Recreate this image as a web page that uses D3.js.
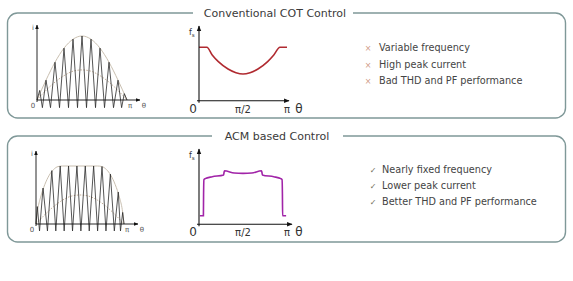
<!DOCTYPE html>
<html><head><meta charset="utf-8">
<script src="https://cdn.jsdelivr.net/npm/d3@7"></script>
<style>body{margin:0;background:#fff}svg{display:block}</style>
</head><body>
<script>
// ---------- data (theta as fraction of pi) ----------
const panelTitles = ["Conventional COT Control", "ACM based Control"];
const cotBullets = ["Variable frequency", "High peak current", "Bad THD and PF performance"];
const acmBullets = ["Nearly fixed frequency", "Lower peak current", "Better THD and PF performance"];
const fsTickLabels = ["0", "π/2", "π"];
const fsTickTheta = [0, 0.5, 1];

// COT current waveform (triangle ripple)
const cotWaveTheta = [0,0.03,0.06,0.10,0.15,0.20,0.25,0.30,0.35,0.40,0.45,0.50,0.55,0.60,0.65,0.70,0.75,0.80,0.85,0.90,0.94,0.97,1.0];
const cotWaveValue = [0,0.15,-0.12,0.31,-0.12,0.59,-0.12,0.81,-0.12,0.95,-0.12,1.0,-0.12,0.95,-0.12,0.81,-0.12,0.59,-0.12,0.31,-0.12,0.1,0];
// COT envelopes
const cotEnvTheta = [0,0.1,0.2,0.3,0.4,0.5,0.6,0.7,0.8,0.9,1];
const cotEnvOuter = [0,0.31,0.59,0.81,0.95,1,0.95,0.81,0.59,0.31,0];
const cotEnvInner = [0,0.15,0.28,0.38,0.45,0.47,0.45,0.38,0.28,0.15,0];

// ACM current waveform
const acmWaveTheta = [0,0.015,0.04,0.08,0.13,0.18,0.225,0.275,0.32,0.37,0.415,0.465,0.51,0.56,0.605,0.655,0.70,0.75,0.795,0.845,0.89,0.935,0.96,0.985,1.0];
const acmWaveValue = [0,0.3,-0.12,0.62,-0.12,0.92,-0.12,1,-0.12,1,-0.12,1,-0.12,1,-0.12,1,-0.12,0.99,-0.12,0.86,-0.12,0.55,-0.12,0.2,0];
const acmEnvTheta = [0,0.02,0.05,0.1,0.15,0.2,0.25,0.3,0.5,0.7,0.75,0.8,0.85,0.9,0.95,0.98,1];
const acmEnvOuter = [0,0.25,0.45,0.68,0.84,0.94,0.99,1,1,1,0.99,0.94,0.84,0.68,0.45,0.25,0];
const acmEnvInnerTheta = [0,0.1,0.2,0.3,0.4,0.5,0.6,0.7,0.8,0.9,1];
const acmEnvInner = [0,0.16,0.3,0.41,0.48,0.5,0.48,0.41,0.3,0.16,0];

// switching frequency curves
const cotFsTheta = [0,0.09,0.15,0.22,0.33,0.42,0.5,0.58,0.67,0.78,0.85,0.92,1];
const cotFsValue = [0.725,0.725,0.62,0.53,0.43,0.38,0.362,0.38,0.43,0.53,0.62,0.725,0.725];
const acmFsTheta = [0.01,0.05,0.052,0.056,0.07,0.15,0.28,0.285,0.29,0.4,0.5,0.6,0.71,0.715,0.72,0.85,0.93,0.944,0.948,0.95,0.99];
const acmFsValue = [0.116,0.116,0.4,0.6,0.615,0.64,0.665,0.7,0.72,0.69,0.685,0.69,0.72,0.7,0.665,0.64,0.615,0.6,0.4,0.116,0.116];

// ---------- drawing ----------
const W = 573, H = 281;
const svg = d3.select("body").append("svg").attr("width", W).attr("height", H);
const defs = svg.append("defs");
defs.append("marker").attr("id","arr").attr("viewBox","0 0 10 10").attr("refX",9).attr("refY",5)
  .attr("markerWidth",5).attr("markerHeight",5).attr("orient","auto-start-reverse")
  .append("path").attr("d","M0,1 L10,5 L0,9 z").attr("fill","#111");

const FONT = "DejaVu Sans, Verdana, sans-serif";
const border = "#7f9898";

function panel(y0, y1, title, tx0, tx1, tcx, tBase) {
  const x0 = 7.5, x1 = 565.5, r = 10;
  const p = d3.path();
  p.moveTo(tx0, y0); p.lineTo(x0 + r, y0); p.arcTo(x0, y0, x0, y0 + r, r);
  p.lineTo(x0, y1 - r); p.arcTo(x0, y1, x0 + r, y1, r);
  p.lineTo(x1 - r, y1); p.arcTo(x1, y1, x1, y1 - r, r);
  p.lineTo(x1, y0 + r); p.arcTo(x1, y0, x1 - r, y0, r);
  p.lineTo(tx1, y0);
  svg.append("path").attr("d", p.toString()).attr("fill","none").attr("stroke",border).attr("stroke-width",1.4);
  svg.append("text").attr("x", tcx).attr("y", tBase).attr("text-anchor","middle")
    .attr("font-family", FONT).attr("font-size", 11).attr("fill","#3a3a3a").text(title);
}
panel(13, 118, panelTitles[0], 193, 353, 275, 16.5);
panel(136, 242, panelTitles[1], 212, 343, 277, 139.5);

function currentChart(cfg) {
  const x = d3.scaleLinear().domain([0,1]).range([cfg.x0, cfg.x1]);
  const y = d3.scaleLinear().domain([0,1]).range([cfg.yb, cfg.yt]);
  const g = svg.append("g");
  const line = (xs, vs, curve) => d3.line().x((d,i)=>x(xs[i])).y(d=>y(d)).curve(curve)(vs);
  g.append("path").attr("d", line(cfg.envTheta, cfg.envOuter, d3.curveMonotoneX))
    .attr("fill","none").attr("stroke","#c9bfb0").attr("stroke-width",1);
  g.append("path").attr("d", line(cfg.innerTheta, cfg.envInner, d3.curveMonotoneX))
    .attr("fill","none").attr("stroke","#c4ad95").attr("stroke-width",1).attr("stroke-dasharray","1.5,1.5");
  g.append("path").attr("d", line(cfg.waveTheta, cfg.waveValue, d3.curveLinear))
    .attr("fill","none").attr("stroke","#2a2a2a").attr("stroke-width",0.8);
  // axes
  g.append("line").attr("x1", x(0)).attr("y1", y(0)+2).attr("x2", x(0)).attr("y2", cfg.yArrow)
    .attr("stroke","#111").attr("stroke-width",0.9).attr("marker-end","url(#arr)");
  g.append("line").attr("x1", x(0)).attr("y1", y(0)).attr("x2", cfg.xArrow).attr("y2", y(0))
    .attr("stroke","#111").attr("stroke-width",0.9).attr("marker-end","url(#arr)");
  const t = (tx, ty, s) => g.append("text").attr("x",tx).attr("y",ty).attr("font-family",FONT)
    .attr("font-size",7).attr("fill","#555").attr("text-anchor","middle").text(s);
  t(x(0)-4, cfg.yArrow+5, "i");
  t(x(0)-4, y(0)+8, "0");
  t(x(1)+3, y(0)+8, "π");
  t(cfg.xArrow+4, y(0)+8, "θ");
}
currentChart({x0:37, x1:127, yb:100, yt:36, yArrow:25, xArrow:140,
  envTheta:cotEnvTheta, envOuter:cotEnvOuter, innerTheta:cotEnvTheta, envInner:cotEnvInner,
  waveTheta:cotWaveTheta, waveValue:cotWaveValue});
currentChart({x0:36, x1:124, yb:224, yt:166, yArrow:151, xArrow:138,
  envTheta:acmEnvTheta, envOuter:acmEnvOuter, innerTheta:acmEnvInnerTheta, envInner:acmEnvInner,
  waveTheta:acmWaveTheta, waveValue:acmWaveValue});

function fsChart(cfg) {
  const x = d3.scaleLinear().domain([0,1]).range([199, 287]);
  const y = d3.scaleLinear().domain([0,1]).range([cfg.yb, cfg.yt]);
  const g = svg.append("g");
  g.append("path").attr("d", d3.line().x((d,i)=>x(cfg.theta[i])).y(d=>y(d)).curve(d3.curveMonotoneX)(cfg.values))
    .attr("fill","none").attr("stroke",cfg.color).attr("stroke-width",1.6);
  g.append("line").attr("x1", x(0)).attr("y1", y(0)+2).attr("x2", x(0)).attr("y2", cfg.yt - 1)
    .attr("stroke","#111").attr("stroke-width",1.1).attr("marker-end","url(#arr)");
  g.append("line").attr("x1", x(0)-2).attr("y1", y(0)).attr("x2", cfg.xArrow).attr("y2", y(0))
    .attr("stroke","#111").attr("stroke-width",1.1).attr("marker-end","url(#arr)");
  fsTickTheta.forEach((v,i)=>{
    g.append("text").attr("x", x(v) + (i===0?-6:0)).attr("y", y(0)+12).attr("text-anchor","middle")
      .attr("font-family",FONT).attr("font-size", i===0?12:10).attr("fill","#333").text(fsTickLabels[i]);
  });
  g.append("text").attr("x", 299).attr("y", y(0)+12).attr("text-anchor","middle")
    .attr("font-family",FONT).attr("font-size",12).attr("fill","#333").text("θ");
  const fl = g.append("text").attr("x", x(0)-10).attr("y", cfg.yt+8)
    .attr("font-family",FONT).attr("font-size",8).attr("fill","#333");
  fl.append("tspan").text("f");
  fl.append("tspan").attr("font-size",5.5).attr("dy",2).text("s");
}
fsChart({yb:100.7, yt:27, xArrow:289, theta:cotFsTheta, values:cotFsValue, color:"#b02a30"});
fsChart({yb:224.3, yt:150, xArrow:292, theta:acmFsTheta, values:acmFsValue, color:"#a124a8"});

function bullets(items, mark, markColor, ys, mx, tx) {
  items.forEach((s,i)=>{
    svg.append("text").attr("x",mx).attr("y",ys[i]).attr("font-family",FONT).attr("font-size",8)
      .attr("fill",markColor).attr("text-anchor","middle").text(mark);
    svg.append("text").attr("x",tx).attr("y",ys[i]).attr("font-family",FONT).attr("font-size",9.7)
      .attr("fill","#444").text(s);
  });
}
bullets(cotBullets, "×", "#d09a86", [51, 67.5, 84], 368, 379);
bullets(acmBullets, "✓", "#6d6d55", [172.5, 189, 204.5], 373, 382);
</script>
</body></html>
